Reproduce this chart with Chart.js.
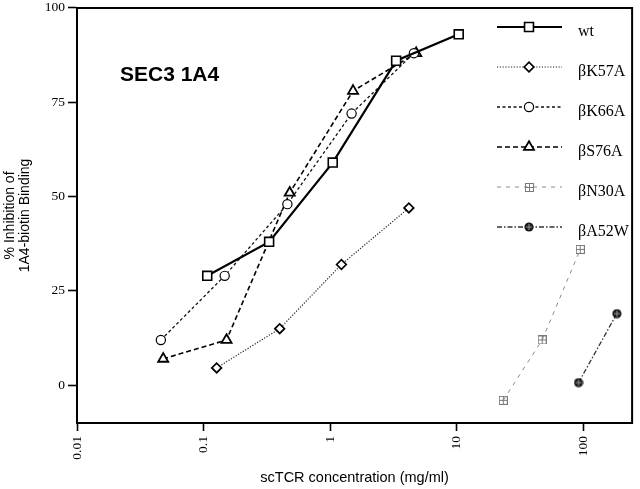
<!DOCTYPE html>
<html>
<head>
<meta charset="utf-8">
<script src="https://cdn.jsdelivr.net/npm/chart.js@4.4.1/dist/chart.umd.min.js"></script>
<style>
  html, body { margin: 0; padding: 0; background: #fff; }
  #wrap { width: 640px; height: 489px; }
</style>
</head>
<body>
<div id="wrap"><canvas id="c" width="640" height="489"></canvas></div>
<script>
// ---- data ----
const seriesNames = ['wt', 'βK57A', 'βK66A', 'βS76A', 'βN30A', 'βA52W'];
const wtConc   = [0.107, 0.33, 1.05, 3.33, 10.4];
const wtInhib  = [29, 38, 59, 86, 93];
const k57aConc = [0.127, 0.40, 1.23, 4.2];
const k57aInhib = [4.6, 15, 32, 47];
const k66aConc = [0.046, 0.147, 0.46, 1.48, 4.6];
const k66aInhib = [12, 29, 48, 72, 88];
const s76aConc = [0.048, 0.152, 0.48, 1.52, 4.8];
const s76aInhib = [7, 12, 51, 78, 88];
const n30aConc = [23.4, 47.5, 95];
const n30aInhib = [-4, 12, 36];
const a52wConc = [92, 185];
const a52wInhib = [0.7, 19];
const xTickValues = [0.01, 0.1, 1, 10, 100];
const yTickValues = [0, 25, 50, 75, 100];
const panelLabel = 'SEC3 1A4';
const xTitle = 'scTCR concentration (mg/ml)';
const yTitle = ['% Inhibition of', '1A4-biotin Binding'];

function pts(xs, ys) { return xs.map((x, i) => ({ x: x, y: ys[i] })); }

// custom marker images
function gridSquare() {
  const c = document.createElement('canvas');
  c.width = 9; c.height = 9;
  const g = c.getContext('2d');
  g.strokeStyle = '#7a7a7a'; g.lineWidth = 1;
  g.strokeRect(0.5, 0.5, 8, 8);
  g.beginPath(); g.moveTo(4.5, 0.5); g.lineTo(4.5, 8.5); g.moveTo(0.5, 4.5); g.lineTo(8.5, 4.5); g.stroke();
  return c;
}
function crossDot() {
  const c = document.createElement('canvas');
  c.width = 10; c.height = 10;
  const g = c.getContext('2d');
  g.fillStyle = '#1a1a1a';
  g.beginPath(); g.arc(5, 5, 4.6, 0, Math.PI * 2); g.fill();
  g.strokeStyle = '#9a9a9a'; g.lineWidth = 1;
  g.beginPath(); g.moveTo(5, 2); g.lineTo(5, 8); g.moveTo(2, 5); g.lineTo(8, 5); g.stroke();
  return c;
}

const datasets = [
  { label: seriesNames[0], data: pts(wtConc, wtInhib), borderColor: '#000', borderWidth: 2.2, borderDash: [],
    pointStyle: 'rect', pointRadius: 6.3, pointBorderWidth: 1.6, pointBackgroundColor: '#fff', pointBorderColor: '#000' },
  { label: seriesNames[1], data: pts(k57aConc, k57aInhib), borderColor: '#222', borderWidth: 1.2, borderDash: [1.2, 1.6],
    pointStyle: 'rectRot', pointRadius: 4.8, pointBorderWidth: 1.7, pointBackgroundColor: '#fff', pointBorderColor: '#000' },
  { label: seriesNames[2], data: pts(k66aConc, k66aInhib), borderColor: '#111', borderWidth: 1.3, borderDash: [3, 2.5],
    pointStyle: 'circle', pointRadius: 4.6, pointBorderWidth: 1.2, pointBackgroundColor: '#fff', pointBorderColor: '#000' },
  { label: seriesNames[3], data: pts(s76aConc, s76aInhib), borderColor: '#000', borderWidth: 1.6, borderDash: [5, 3],
    pointStyle: 'triangle', pointRadius: 5.8, pointBorderWidth: 1.8, pointBackgroundColor: '#fff', pointBorderColor: '#000' },
  { label: seriesNames[4], data: pts(n30aConc, n30aInhib), borderColor: '#8a8a8a', borderWidth: 1, borderDash: [4, 5],
    pointStyle: gridSquare(), pointRadius: 4.5, pointBorderWidth: 0, pointBackgroundColor: '#fff', pointBorderColor: '#7a7a7a' },
  { label: seriesNames[5], data: pts(a52wConc, a52wInhib), borderColor: '#333', borderWidth: 1.3, borderDash: [5, 2, 1.5, 2],
    pointStyle: crossDot(), pointRadius: 5, pointBorderWidth: 0, pointBackgroundColor: '#1a1a1a', pointBorderColor: '#1a1a1a' }
];
datasets.forEach(d => { d.fill = false; d.tension = 0; d.pointHoverRadius = d.pointRadius; });

const framePlugin = {
  id: 'frame',
  afterDatasetsDraw(chart) {
    const { ctx, chartArea: a } = chart;
    ctx.save();
    ctx.strokeStyle = '#000'; ctx.lineWidth = 2;
    ctx.beginPath();
    ctx.moveTo(a.left - 1, a.top); ctx.lineTo(a.right, a.top); ctx.lineTo(a.right, a.bottom + 1);
    ctx.stroke();
    // panel label
    ctx.fillStyle = '#000';
    ctx.font = 'bold 21px "Liberation Sans", Arial, sans-serif';
    ctx.textBaseline = 'alphabetic';
    ctx.fillText(panelLabel, a.left + 43, a.top + 73);
    ctx.restore();
  }
};

const legendPlugin = {
  id: 'sideLegend',
  afterDraw(chart) {
    const ctx = chart.ctx;
    chart.data.datasets.forEach((ds, i) => {
      const y = 27 + 40 * i;
      ctx.save();
      ctx.strokeStyle = ds.borderColor; ctx.lineWidth = ds.borderWidth;
      ctx.setLineDash(ds.borderDash || []);
      ctx.beginPath(); ctx.moveTo(497, y); ctx.lineTo(562, y); ctx.stroke();
      ctx.setLineDash([]);
      ctx.fillStyle = ds.pointBackgroundColor; ctx.strokeStyle = ds.pointBorderColor; ctx.lineWidth = ds.pointBorderWidth;
      if (typeof ds.pointStyle !== 'string') {
        ctx.drawImage(ds.pointStyle, Math.round(529 - ds.pointStyle.width / 2), Math.round(y - ds.pointStyle.height / 2));
      } else {
        Chart.helpers.drawPoint(ctx, { pointStyle: ds.pointStyle, radius: ds.pointRadius, borderWidth: ds.pointBorderWidth, rotation: 0 }, 529, y);
      }
      ctx.fillStyle = '#000';
      ctx.font = '16px "Liberation Serif", "Times New Roman", serif';
      ctx.textBaseline = 'middle';
      ctx.fillText(ds.label, 578, y + 5);
      ctx.restore();
    });
  }
};

new Chart(document.getElementById('c'), {
  type: 'line',
  data: { datasets: datasets },
  plugins: [framePlugin, legendPlugin],
  options: {
    responsive: false,
    animation: false,
    events: [],
    layout: { padding: { top: 5, right: 5, left: 0, bottom: 0 } },
    plugins: { legend: { display: false }, tooltip: { enabled: false } },
    scales: {
      x: {
        type: 'logarithmic',
        min: 0.01, max: 244,
        afterBuildTicks: s => { s.ticks = xTickValues.map(v => ({ value: v })); },
        afterFit: s => { s.height = 66; s.paddingLeft = 0; s.paddingRight = 0; },
        ticks: {
          autoSkip: false, minRotation: 90, maxRotation: 90, padding: 5, color: '#000',
          font: { family: '"Liberation Serif", "Times New Roman", serif', size: 13.5 },
          callback: v => String(v)
        },
        grid: { drawOnChartArea: false, drawTicks: true, tickLength: 8, tickColor: '#000', tickWidth: 1.6 },
        border: { display: true, color: '#000', width: 2 },
        title: { display: true, text: xTitle, color: '#000', padding: { top: 4, bottom: 2 },
          font: { family: '"Liberation Sans", Arial, sans-serif', size: 14.5 } }
      },
      y: {
        type: 'linear',
        min: -10, max: 100,
        afterBuildTicks: s => { s.ticks = yTickValues.map(v => ({ value: v })); },
        afterFit: s => { s.width = 77; s.paddingTop = 0; s.paddingBottom = 0; },
        ticks: { padding: 3, color: '#000',
          font: { family: '"Liberation Serif", "Times New Roman", serif', size: 13.5 } },
        grid: { drawOnChartArea: false, drawTicks: true, tickLength: 9, tickColor: '#000', tickWidth: 1.6 },
        border: { display: true, color: '#000', width: 2 },
        title: { display: true, text: yTitle, color: '#000', padding: { top: 3, bottom: 0 },
          font: { family: '"Liberation Sans", Arial, sans-serif', size: 14, lineHeight: 1.07 } }
      }
    }
  }
});
</script>
</body>
</html>
